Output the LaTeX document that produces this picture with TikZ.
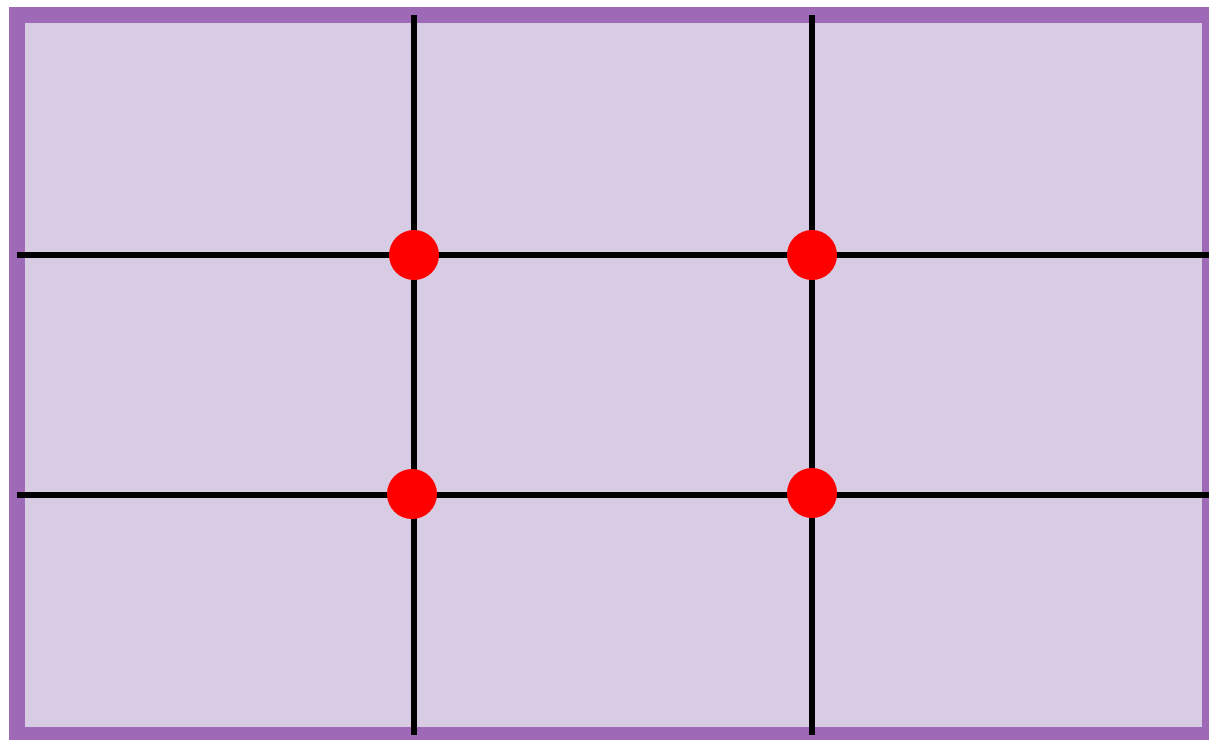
\documentclass[tikz,border=0pt]{standalone}
\definecolor{framepurple}{HTML}{9E6AB8}
\definecolor{fillpurple}{HTML}{D8CCE4}
\tikzset{
  gridline/.style={line width=6pt, draw=black},
  hotspot/.style={circle, fill=red, minimum size=50pt, inner sep=0pt},
}
\begin{document}
\begin{tikzpicture}[x=1pt,y=-1pt]
\useasboundingbox (0,0) rectangle (1209,739);
\clip (0,0) rectangle (1209,739);
\draw[line width=16pt, draw=framepurple, fill=fillpurple] (17,15) rectangle (1210,735);
% grid end points
\coordinate (v1t) at (414,15);
\coordinate (v1b) at (414,735);
\coordinate (v2t) at (812,15);
\coordinate (v2b) at (812,735);
\coordinate (h1l) at (17,255);
\coordinate (h1r) at (1215,255);
\coordinate (h2l) at (17,495);
\coordinate (h2r) at (1215,495);
\draw[gridline] (v1t) -- (v1b);
\draw[gridline] (v2t) -- (v2b);
\draw[gridline] (h1l) -- (h1r);
\draw[gridline] (h2l) -- (h2r);
\node[hotspot] (p1) at (414,255) {};
\node[hotspot] (p2) at (812,255) {};
\node[hotspot] (p3) at (412,494) {};
\node[hotspot] (p4) at (812,493) {};
\end{tikzpicture}
\end{document}
